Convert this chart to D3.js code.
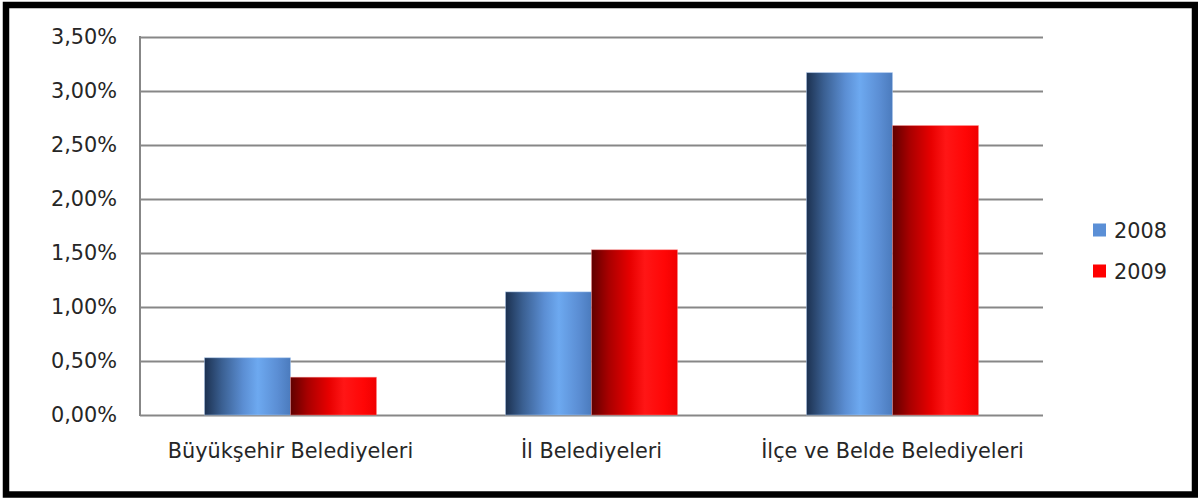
<!DOCTYPE html>
<html><head><meta charset="utf-8">
<script src="https://cdn.jsdelivr.net/npm/d3@7"></script>
<style>html,body{margin:0;padding:0;background:#fff;}svg{display:block;}</style>
</head><body>
<svg id="c" width="1198" height="498"></svg>
<script>
const categories = ["Büyükşehir Belediyeleri", "İl Belediyeleri", "İlçe ve Belde Belediyeleri"];
const seriesNames = ["2008", "2009"];
const values2008 = [0.0053, 0.0114, 0.0317];
const values2009 = [0.0035, 0.0153, 0.0268];
const yTicks = [0, 0.005, 0.01, 0.015, 0.02, 0.025, 0.03, 0.035];

const svg = d3.select("#c");
const W = 1198, H = 498;
const m = {l:140, r:1043, t:37, b:415};
const font = "'DejaVu Sans', Verdana, sans-serif";
const fs = "20.8px";

svg.append("rect").attr("width",W).attr("height",H).attr("fill","#fff");

const defs = svg.append("defs");
function grad(id, stops){
  const g = defs.append("linearGradient").attr("id",id).attr("x1","0").attr("x2","1").attr("y1","0").attr("y2","0");
  stops.forEach(s=>g.append("stop").attr("offset",s[0]).attr("stop-color",s[1]));
}
grad("gBlue", [[0,"#1c3150"],[0.2,"#3a5f91"],[0.45,"#5b8ed3"],[0.62,"#6da9f0"],[0.85,"#5b8ed4"],[1,"#4b7bbd"]]);
grad("gRed", [[0,"#600000"],[0.2,"#a80000"],[0.45,"#e80000"],[0.62,"#ff1616"],[0.85,"#ff0606"],[1,"#f00000"]]);

const x = d3.scaleBand().domain(categories).range([m.l, m.r]).paddingInner(3/7).paddingOuter(1.5/7);
const xs = d3.scaleBand().domain(seriesNames).range([0, x.bandwidth()]);
const y = d3.scaleLinear().domain([0, 0.035]).range([m.b, m.t]);

const fmt = v => d3.format(".2f")(v*100).replace(".", ",") + "%";

// gridlines + y axis
const ya = svg.append("g").attr("transform",`translate(${m.l},0)`)
  .call(d3.axisLeft(y).tickValues(yTicks).tickSize(-(m.r-m.l)).tickPadding(23).tickFormat(fmt));
ya.select(".domain").remove();
ya.selectAll(".tick line").attr("stroke","#878787").attr("stroke-width",2);
ya.selectAll(".tick text").attr("font-family",font).attr("font-size",fs).attr("fill","#262626");
svg.append("line").attr("x1",m.l).attr("x2",m.l).attr("y1",m.t-1).attr("y2",m.b+1)
  .attr("stroke","#878787").attr("stroke-width",2);

// bars
const data = categories.map((c,i)=>({c, vals:[{s:"2008",v:values2008[i]},{s:"2009",v:values2009[i]}]}));
const g = svg.append("g");
data.forEach(d=>{
  d.vals.forEach(b=>{
    g.append("rect")
      .attr("x", x(d.c)+xs(b.s))
      .attr("y", y(b.v))
      .attr("width", xs.bandwidth())
      .attr("height", y(0)-y(b.v))
      .attr("fill", b.s==="2008" ? "url(#gBlue)" : "url(#gRed)")
      .attr("stroke", b.s==="2008" ? "rgba(170,200,240,0.6)" : "rgba(255,140,140,0.5)")
      .attr("stroke-width", 0.8);
  });
});

// x axis
const xa = svg.append("g").attr("transform",`translate(0,${m.b})`)
  .call(d3.axisBottom(x).tickSize(0).tickPadding(28));
xa.select(".domain").remove();
xa.selectAll(".tick text").attr("font-family",font).attr("font-size",fs).attr("fill","#262626");

// legend
const colors = {"2008":"#5b8fd6","2009":"#ff0000"};
const lg = svg.append("g");
seriesNames.forEach((s,i)=>{
  const cy = 230 + i*41;
  lg.append("rect").attr("x",1093).attr("y",cy-6.5).attr("width",13).attr("height",13).attr("fill",colors[s]);
  lg.append("text").attr("x",1114).attr("y",cy+7.5).attr("font-family",font).attr("font-size",fs)
    .attr("fill","#262626").text(s);
});

// frame
svg.append("rect").attr("x",6).attr("y",5).attr("width",1189).attr("height",489.5)
  .attr("fill","none").attr("stroke","#000").attr("stroke-width",6.5);
</script>
</body></html>
